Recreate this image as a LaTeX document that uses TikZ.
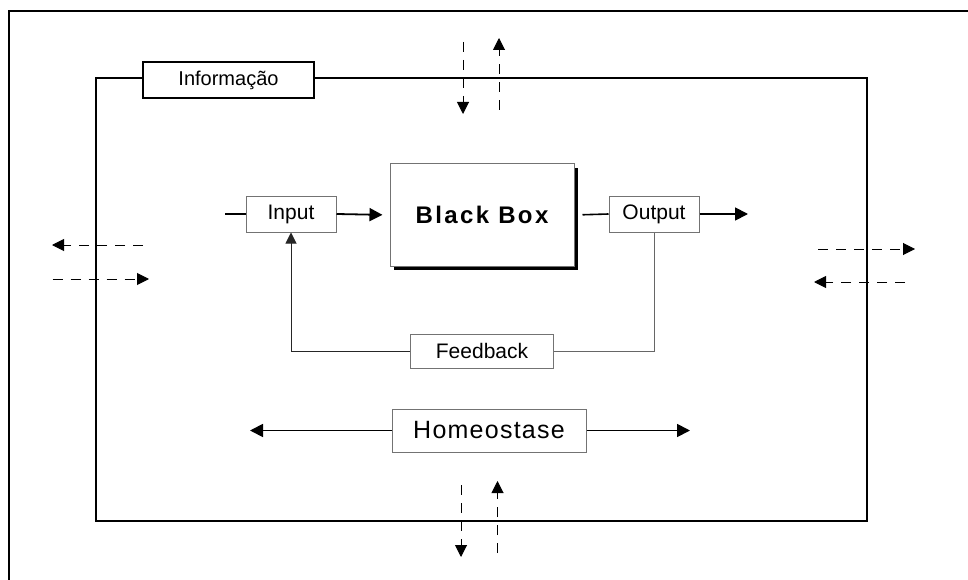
\documentclass[tikz,border=0pt]{standalone}
\usepackage{fontspec}
\setmainfont{Liberation Sans}
\usetikzlibrary{arrows.meta,shadows}
\begin{document}
\begin{tikzpicture}[x=1pt,y=-1pt,
  frame/.style={line width=2pt, black},
  labelbox/.style={draw=black!55, line width=1pt, fill=white, inner sep=0pt,
    minimum width=90pt, minimum height=36pt, font=\fontsize{21}{21}\selectfont},
  flow/.style={line width=1.8pt, -{Triangle[length=13pt,width=13pt]}},
  plain/.style={line width=1.6pt, black},
  link/.style={line width=1pt, black!60},
  exchange/.style={line width=1pt, dash pattern=on 10pt off 8pt,
    -{Triangle[length=12pt,width=12pt]}},
]
\useasboundingbox (0,0) rectangle (968,580);

% surrounding environment frame (open towards right and bottom)
\draw[frame] (8.6,580) |- (968,11);

% system boundary
\draw[frame] (95.7,78) rectangle (867,521);
\node[labelbox, draw=black, line width=1.5pt, minimum width=171pt,
  font=\fontsize{20}{20}\selectfont] (info) at (228.5,80) {Informação};

% core process
\node[labelbox] (in) at (291,214) {Input};
\node[draw=black!55, line width=1pt, fill=white, minimum width=184pt, minimum height=102pt,
  drop shadow={shadow xshift=4pt, shadow yshift=-4pt, fill=black, opacity=1},
  font=\fontsize{24}{24}\bfseries\addfontfeature{LetterSpace=10}] (bb) at (482,215) {Black Box};
\node[labelbox] (out) at (654,214) {Output};
\node[labelbox, minimum width=142.6pt, minimum height=34pt] (fb) at (482,351) {Feedback};
\node[labelbox, minimum width=194pt, minimum height=43pt,
  font=\fontsize{25}{25}\selectfont\addfontfeature{LetterSpace=5}] (homeo) at (489,430.5) {Homeostase};

\coordinate (inL) at (225,214);
\coordinate (outR) at (748,214);
\coordinate (hL) at (250,430.5);
\coordinate (hR) at (690,430.5);

\draw[plain] (inL) -- (in.west);
\draw[flow, shorten >=7pt] (in.east) -- (bb.west);
\draw[plain, shorten <=8pt] (bb.east) -- (out.west);
\draw[flow] (out.east) -- (outR);
\draw[link] (out.south) |- (fb.east);
\draw[line width=1pt, black!85, -{Triangle[length=11pt,width=11pt]}] (fb.west) -| (in.south);
\draw[flow] (homeo.west) -- (hL);
\draw[flow] (homeo.east) -- (hR);

% exchanges with the environment
\coordinate (t1a) at (463,42);  \coordinate (t1b) at (463,114);
\coordinate (t2a) at (499,110); \coordinate (t2b) at (499,38);
\coordinate (b1a) at (461,485); \coordinate (b1b) at (461,557);
\coordinate (b2a) at (497.5,553); \coordinate (b2b) at (497.5,481);
\coordinate (l1a) at (143,245); \coordinate (l1b) at (52,245);
\coordinate (l2a) at (52.5,279); \coordinate (l2b) at (149,279);
\coordinate (r1a) at (818,249); \coordinate (r1b) at (915,249);
\coordinate (r2a) at (905,282); \coordinate (r2b) at (814,282);
\foreach \p in {t1,t2,b1,b2,l1,l2,r1,r2}
  \draw[exchange] (\p a) -- (\p b);
\end{tikzpicture}
\end{document}
